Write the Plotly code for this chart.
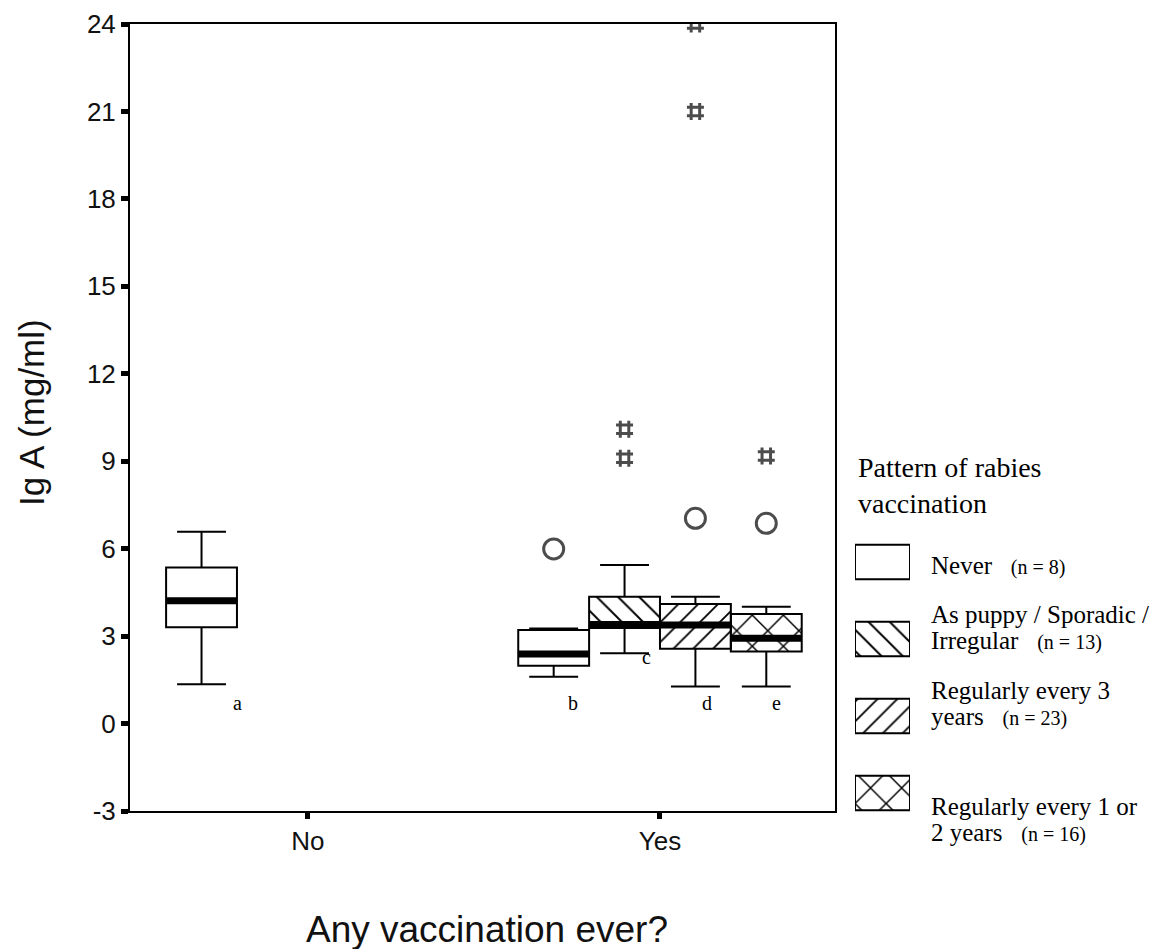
import plotly.graph_objects as go

# page is offset by the 8px body margin, so the figure is 8px smaller
OFF = 8
W, H = 1169 - OFF, 949 - OFF

# ---------------- data ----------------
categories = ["No", "Yes"]
groups = ["Never", "As puppy / Sporadic / Irregular",
          "Regularly every 3 years", "Regularly every 1 or 2 years"]
group_n = [8, 13, 23, 16]

never_x = ["No", "Yes"]
never_low = [1.35, 1.61]
never_q1 = [3.30, 1.98]
never_med = [4.21, 2.39]
never_q3 = [5.35, 3.21]
never_high = [6.58, 3.26]
never_out_x = ["Yes"]
never_out_y = [5.99]
never_out_kind = ["outlier"]

puppy_x = ["Yes"]
puppy_low = [2.41]
puppy_q1 = [3.28]
puppy_med = [3.40]
puppy_q3 = [4.35]
puppy_high = [5.44]
puppy_out_x = ["Yes", "Yes"]
puppy_out_y = [9.10, 10.10]
puppy_out_kind = ["extreme", "extreme"]

reg3_x = ["Yes"]
reg3_low = [1.27]
reg3_q1 = [2.57]
reg3_med = [3.38]
reg3_q3 = [4.10]
reg3_high = [4.35]
reg3_out_x = ["Yes", "Yes", "Yes"]
reg3_out_y = [7.04, 21.0, 24.0]
reg3_out_kind = ["outlier", "extreme", "extreme"]

reg12_x = ["Yes"]
reg12_low = [1.27]
reg12_q1 = [2.47]
reg12_med = [2.93]
reg12_q3 = [3.76]
reg12_high = [4.01]
reg12_out_x = ["Yes", "Yes"]
reg12_out_y = [6.87, 9.18]
reg12_out_kind = ["outlier", "extreme"]

y_ticks = [-3, 0, 3, 6, 9, 12, 15, 18, 21, 24]
y_tick_text = ["-3", "0", "3", "6", "9", "12", "15", "18", "21", "24"]

letter_labels = ["a", "b", "c", "d", "e"]
letter_x = [-0.199, 0.753, 0.963, 1.134, 1.332]
letter_y = [0.70, 0.70, 2.28, 0.70, 0.70]

legend_title = "Pattern of rabies<br>vaccination"
legend_lines = [["Never"], ["As puppy / Sporadic /", "Irregular"],
                ["Regularly every 3", "years"], ["Regularly every 1 or", "2 years"]]

# ---------------- styles ----------------
patterns = ["", "\\", "/", "x"]
pattern_sizes = [10, 15, 14, 22]
GAP = 0.195
SANS = "Liberation Sans, Arial, sans-serif"
SERIF = "Liberation Serif, Times New Roman, serif"

stats = [
    (never_x, never_low, never_q1, never_med, never_q3, never_high, never_out_x, never_out_y, never_out_kind),
    (puppy_x, puppy_low, puppy_q1, puppy_med, puppy_q3, puppy_high, puppy_out_x, puppy_out_y, puppy_out_kind),
    (reg3_x, reg3_low, reg3_q1, reg3_med, reg3_q3, reg3_high, reg3_out_x, reg3_out_y, reg3_out_kind),
    (reg12_x, reg12_low, reg12_q1, reg12_med, reg12_q3, reg12_high, reg12_out_x, reg12_out_y, reg12_out_kind),
]

fig = go.Figure()

# hatched fills (interquartile ranges) as bars
for k, (xs, lo, q1, md, q3, hi, ox, oy, ok) in enumerate(stats):
    fig.add_trace(go.Bar(
        x=xs, y=[b - a for a, b in zip(q1, q3)], base=q1,
        marker=dict(color="white", line=dict(width=0),
                    pattern=dict(shape=patterns[k], size=pattern_sizes[k], solidity=0.13,
                                 fgcolor="black", bgcolor="white", fillmode="replace")),
        offsetgroup=f"g{k}", showlegend=False, hoverinfo="skip", name=groups[k]))

# box outlines and whiskers
for k, (xs, lo, q1, md, q3, hi, ox, oy, ok) in enumerate(stats):
    fig.add_trace(go.Box(
        x=xs, q1=q1, median=md, q3=q3, lowerfence=lo, upperfence=hi,
        fillcolor="rgba(0,0,0,0)", line=dict(color="black", width=2),
        whiskerwidth=0.69, boxpoints=False, offsetgroup=f"g{k}",
        showlegend=False, name=groups[k]))

# thick medians (degenerate boxes at the median)
for k, (xs, lo, q1, md, q3, hi, ox, oy, ok) in enumerate(stats):
    fig.add_trace(go.Box(
        x=xs, q1=md, median=md, q3=md, lowerfence=md, upperfence=md,
        fillcolor="rgba(0,0,0,0)", line=dict(color="black", width=7),
        whiskerwidth=0, boxpoints=False, offsetgroup=f"g{k}",
        showlegend=False, name=groups[k] + " median"))

# outliers (circles) and extremes
sym = {"outlier": "circle-open", "extreme": "hash-open"}
siz = {"outlier": 20, "extreme": 17}
for k, (xs, lo, q1, md, q3, hi, ox, oy, ok) in enumerate(stats):
    fig.add_trace(go.Scatter(
        x=ox, y=oy, mode="markers", orientation="v",
        marker=dict(symbol=[sym[t] for t in ok], size=[siz[t] for t in ok],
                    color="black", line=dict(color="black", width=3)),
        offsetgroup=f"g{k}", showlegend=False, name=groups[k] + " outliers"))

# legend swatches on their own small axes
fig.add_trace(go.Bar(
    y=groups, x=[1, 1, 1, 1], base=0, orientation="h", width=0.45,
    marker=dict(color="white", line=dict(color="black", width=2),
                pattern=dict(shape=patterns, size=pattern_sizes, solidity=0.13,
                             fgcolor="black", bgcolor="white", fillmode="replace")),
    xaxis="x2", yaxis="y2", showlegend=False, hoverinfo="skip"))


def px_x(p):
    return (p - OFF) / W


def px_y(p):
    return 1 - (p - OFF) / H


annotations = []
# letters
for t, lx, ly in zip(letter_labels, letter_x, letter_y):
    annotations.append(dict(text=t, x=lx, y=ly, xref="x", yref="y", showarrow=False,
                            font=dict(family=SERIF, size=20, color="black")))
# axis titles
annotations.append(dict(text="Ig A (mg/ml)", x=px_x(31), y=px_y(413), xref="paper", yref="paper",
                        xanchor="center", yanchor="middle",
                        textangle=-90, showarrow=False, font=dict(family=SANS, size=35, color="#111")))
annotations.append(dict(text="Any vaccination ever?", x=px_x(487), y=px_y(929), xref="paper", yref="paper",
                        xanchor="center", yanchor="middle",
                        showarrow=False, font=dict(family=SANS, size=37, color="#111")))
# legend title
annotations.append(dict(text=legend_title, x=px_x(856), y=px_y(485), xref="paper", yref="paper",
                        xanchor="left", yanchor="middle", align="left", showarrow=False,
                        font=dict(family=SERIF, size=28, color="black")))
# legend texts
line_y = [[565], [614, 640], [690, 716], [806, 832]]
for k, lines in enumerate(legend_lines):
    for j, (txt, yy) in enumerate(zip(lines, line_y[k])):
        if j == len(lines) - 1:
            txt = txt + "\u00a0\u00a0\u00a0" + f"<span style='font-size:20px'>(n = {group_n[k]})</span>"
        annotations.append(dict(text=txt, x=px_x(929), y=px_y(yy), xref="paper", yref="paper",
                                xanchor="left", yanchor="middle", showarrow=False,
                                font=dict(family=SERIF, size=25, color="black")))

fig.update_layout(
    template="none",
    width=W, height=H, margin=dict(l=0, r=0, t=0, b=0, pad=0), autosize=False,
    paper_bgcolor="white", plot_bgcolor="white",
    boxmode="group", boxgap=GAP, boxgroupgap=0,
    barmode="group", bargap=GAP, bargroupgap=0,
    scattermode="group", scattergap=GAP,
    showlegend=False,
    xaxis=dict(domain=[px_x(130), px_x(835)], type="category", categoryorder="array",
               categoryarray=categories, range=[-0.505, 1.497], automargin=False,
               showline=True, linecolor="black", linewidth=2, mirror=True,
               ticks="outside", ticklen=6, tickwidth=5, tickcolor="black",
               showgrid=False, zeroline=False,
               tickfont=dict(family=SANS, size=26, color="#111")),
    yaxis=dict(domain=[px_y(811), px_y(24)], range=[-3, 24], tickmode="array",
               tickvals=y_ticks, ticktext=y_tick_text, automargin=False,
               showline=True, linecolor="black", linewidth=2, mirror=True,
               ticks="outside", ticklen=7, tickwidth=5, tickcolor="black",
               showgrid=False, zeroline=False,
               tickfont=dict(family=SANS, size=26, color="#111")),
    xaxis2=dict(domain=[px_x(855), px_x(910)], range=[0, 1], visible=False, anchor="y2",
                automargin=False),
    yaxis2=dict(domain=[px_y(831.5), px_y(523.5)], type="category", categoryorder="array",
                categoryarray=groups, range=[3.5, -0.5], visible=False, anchor="x2",
                automargin=False),
    annotations=annotations,
)

fig.write_html("out.html")
